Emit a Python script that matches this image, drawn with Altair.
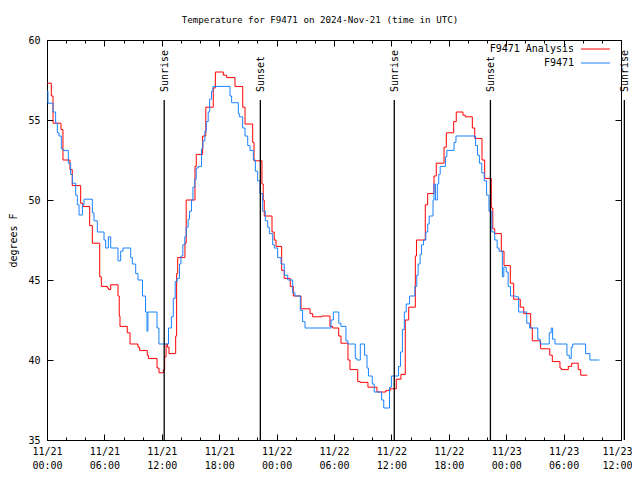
import altair as alt
import pandas as pd

# ---------------- data ----------------
analysis_hours = [0.0, 0.45, 0.63, 1.46, 1.67, 2.4, 2.64, 3.52, 3.76, 4.46, 4.74, 5.51, 5.68, 6.3, 6.45, 6.66,
                  7.42, 7.55, 7.63, 8.39, 8.68, 9.51, 9.69, 10.48, 10.6, 11.5, 11.71, 12.16, 12.3, 12.45, 12.6,
                  12.75, 13.45, 13.55, 13.66, 14.42, 14.55, 15.47, 15.6, 16.27, 16.6, 17.38, 17.6, 18.43, 18.78,
                  19.65, 20.46, 20.7, 21.5, 21.64, 22.47, 22.6, 22.71, 23.52, 23.75, 23.94, 24.53, 24.8, 25.43,
                  25.75, 26.55, 27.49, 27.77, 28.74, 29.58, 29.86, 30.49, 30.73, 31.46, 31.67, 32.48, 32.75,
                  33.55, 34.49, 35.43, 35.88, 36.51, 37.0, 37.45, 37.81, 38.5, 38.62, 39.54, 39.79, 40.45,
                  40.69, 41.5, 41.74, 42.51, 42.78, 43.48, 43.72, 44.46, 44.71, 45.47, 45.75, 46.44, 46.6,
                  46.8, 47.49, 47.77, 48.43, 48.78, 49.47, 49.83, 50.56, 50.73, 51.6, 52.55, 52.82, 53.62,
                  53.76, 54.49, 54.84, 55.53, 55.79, 56.48]
analysis_temps = [57.3, 56.5, 54.8, 54.4, 52.5, 51.9, 50.9, 49.8, 49.6, 48.4, 47.3, 45.2, 44.6, 44.5, 44.4, 44.7,
                  44.0, 42.75, 42.1, 41.7, 41.0, 40.8, 40.6, 40.3, 40.1, 39.5, 39.2, 39.4, 40.2, 41.0, 40.8,
                  40.4, 41.5, 45.4, 46.4, 47.3, 50.0, 52.1, 52.85, 54.0, 55.8, 57.0, 58.0, 57.8, 57.65,
                  57.1, 55.8, 54.75, 53.6, 52.45, 51.0, 50.0, 49.0, 48.0, 47.5, 47.1, 45.6, 45.1, 44.6,
                  44.0, 43.2, 42.9, 42.7, 42.75, 42.1, 42.0, 41.5, 41.05, 40.0, 39.4, 38.65, 38.6,
                  38.3, 38.0, 38.1, 38.2, 38.8, 39.1, 42.5, 43.3, 46.5, 47.5, 49.7, 50.4, 51.5,
                  52.3, 53.3, 54.2, 54.9, 55.5, 55.3, 55.2, 54.5, 53.85, 52.5, 51.35, 49.5, 48.2,
                  47.9, 46.8, 45.9, 44.8, 43.8, 43.3, 42.9, 42.0, 41.2, 40.7, 40.3, 39.9, 39.5,
                  39.4, 39.6, 39.8, 39.4, 39.05, 39.05]

obs_hours = [0.0, 0.1, 0.63, 0.9, 1.08, 1.25, 1.5, 1.67, 2.23, 2.47, 2.65, 3.0, 3.17, 3.35, 3.7, 3.87, 4.74,
             4.91, 5.26, 5.96, 6.13, 6.41, 6.66, 7.42, 7.7, 7.94, 8.75, 8.92, 9.27, 9.51, 9.98, 10.3, 10.45,
             10.55, 11.5, 11.7, 12.7, 13.0, 13.2, 13.4, 13.6, 13.85, 14.0, 14.2, 14.4, 14.55, 14.75, 14.9,
             15.1, 15.25, 15.45, 15.6, 15.8, 16.15, 16.3, 16.5, 16.65, 16.85, 17.0, 17.2, 17.35, 19.13, 19.3,
             20.0, 20.1, 20.45, 20.7, 20.98, 21.22, 21.57, 21.78, 22.02, 22.26, 22.55, 22.82, 23.07, 23.24,
             23.59, 23.76, 24.11, 24.46, 24.8, 25.16, 25.68, 25.92, 26.48, 26.72, 26.97, 29.69, 29.93, 30.5,
             30.73, 31.25, 31.45, 32.22, 32.4, 32.75, 33.2, 33.45, 33.6, 34.0, 34.2, 34.98, 35.2, 35.8, 36.0,
             36.75, 36.95, 37.15, 37.35, 37.55, 37.9, 38.45, 38.65, 38.8, 39.0, 39.15, 39.35, 39.6, 39.8,
             39.95, 40.35, 40.45, 40.6, 40.8, 40.95, 41.1, 41.65, 41.8, 42.55, 42.75, 44.8, 45.0, 45.2, 45.45,
             45.7, 45.95, 46.2, 46.5, 46.8, 47.05, 47.25, 47.6, 47.75, 48.0, 48.2, 48.45, 49.0, 49.3, 50.15,
             50.45, 51.3, 51.55, 52.5, 52.7, 52.85, 53.1, 54.35, 54.6, 54.8, 54.95, 56.3, 56.75, 57.75]
obs_temps = [56.8, 56.05, 55.5, 54.8, 54.2, 54.0, 53.2, 53.1, 52.3, 51.6, 51.05, 50.3, 49.7, 49.06, 49.7, 50.05, 49.2,
             48.7, 48.0, 47.5, 47.0, 47.7, 47.0, 46.2, 46.8, 47.0, 46.4, 46.0, 45.4, 45.0, 44.0, 43.0, 41.8,
             43.0, 42.0, 41.0, 42.0, 42.7, 43.85, 44.9, 45.1, 46.0, 46.5, 47.2, 47.7, 48.3, 48.8, 49.3,
             50.0, 50.8, 51.3, 52.0, 52.1, 53.2, 53.7, 54.3, 54.9, 55.5, 56.3, 56.8, 57.1, 56.5, 56.08,
             55.4, 55.2, 54.5, 54.0, 53.4, 53.1, 52.5, 51.8, 51.2, 50.4, 49.3, 48.7, 48.3, 47.9,
             47.2, 47.0, 46.4, 46.0, 45.3, 45.0, 44.2, 44.0, 43.1, 42.4, 42.0, 42.5, 43.0, 42.3,
             42.1, 41.2, 41.0, 40.1, 40.0, 41.0, 40.3, 39.5, 39.0, 38.5, 38.0, 37.5, 37.0, 38.3, 39.0,
             39.6, 40.5, 41.9, 43.0, 43.5, 44.0, 44.6, 45.3, 46.0, 46.6, 47.2, 47.5, 48.0, 48.5,
             49.0, 50.0, 51.0, 50.0, 51.0, 51.6, 52.1, 52.7, 53.1, 53.6, 54.0, 53.4, 52.8, 52.3, 51.7,
             51.2, 50.3, 49.3, 48.0, 47.5, 47.0, 46.8, 45.2, 45.8, 45.5, 44.6, 44.0, 43.95, 43.0, 42.3,
             42.0, 41.3, 41.0, 41.7, 42.0, 41.3, 41.0, 40.3, 40.1, 40.8, 41.0, 40.4, 40.0, 40.0]

series_names = ["F9471 Analysis", "F9471"]
series_colors = ["#ff0000", "#1a82ff"]

sun_hours = [12.25, 22.3, 36.3, 46.35, 60.35]
sun_labels = ["Sunrise", "Sunset", "Sunrise", "Sunset", "Sunrise"]

major_ticks = [0, 6, 12, 18, 24, 30, 36, 42, 48, 54, 60]
minor_ticks = [0, 2, 4, 6, 8, 10, 12, 14, 16, 18, 20, 22, 24, 26, 28, 30, 32, 34, 36, 38, 40, 42, 44, 46,
               48, 50, 52, 54, 56, 58, 60]
y_ticks = [35, 40, 45, 50, 55, 60]

title_text = "Temperature for F9471 on 2024-Nov-21 (time in UTC)"
y_title = "degrees F"

# ---------------- build ----------------
W, H = 574, 400
FONT = "DejaVu Sans Mono"

df = pd.concat([
    pd.DataFrame({"hour": analysis_hours, "temp": analysis_temps, "series": series_names[0]}),
    pd.DataFrame({"hour": obs_hours, "temp": obs_temps, "series": series_names[1]}),
], ignore_index=True)
sun_df = pd.DataFrame({"hour": sun_hours, "label": sun_labels})

xs = alt.Scale(domain=[0, 60], nice=False, zero=False)
ys = alt.Scale(domain=[35, 60], nice=False, zero=False)
cs = alt.Scale(domain=series_names, range=series_colors)

label_expr = ("['11/' + (21 + floor(datum.value / 24)), "
              "(datum.value % 24 < 10 ? '0' : '') + (datum.value % 24) + ':00']")

base = alt.Chart(df)

lines = base.mark_line(interpolate="step-after", strokeWidth=1).encode(
    x=alt.X("hour:Q", scale=xs, title=None,
            axis=alt.Axis(orient="bottom", values=major_ticks, labelExpr=label_expr, ticks=False,
                          domain=False, grid=False, labelFont=FONT, labelFontSize=10, labelColor="black",
                          labelPadding=6, labelLineHeight=14, labelFlush=False, labelOverlap=False,
                          labelOffset={"condition": {"test": "datum.value == 60", "value": -4}, "value": 0})),
    y=alt.Y("temp:Q", scale=ys, title=y_title,
            axis=alt.Axis(orient="left", values=y_ticks, ticks=False, domain=False, grid=False,
                          labelFont=FONT, labelFontSize=10, labelColor="black", labelPadding=7,
                          titleFont=FONT, titleFontSize=10, titleFontWeight="normal", titleColor="black",
                          titlePadding=9)),
    color=alt.Color("series:N", scale=cs, legend=None, sort=series_names),
)


def tick_layer(xaxis, yaxis):
    enc = {"x": alt.X("hour:Q", scale=xs, title=None, axis=xaxis)}
    if yaxis is not None:
        enc["y"] = alt.Y("temp:Q", scale=ys, title=None, axis=yaxis)
    else:
        enc["y"] = alt.Y("temp:Q", scale=ys, title=None, axis=None)
    return base.mark_point(opacity=0).encode(**enc)


def xt(orient, vals, size):
    return alt.Axis(orient=orient, offset=-H, values=vals, labels=False, domain=False, grid=False,
                    tickSize=size, tickColor="black", tickWidth=1)


def yt(orient, size):
    return alt.Axis(orient=orient, offset=-W, values=y_ticks, labels=False, domain=False, grid=False,
                    tickSize=size, tickColor="black", tickWidth=1)


t1 = tick_layer(xt("top", major_ticks, 6), yt("right", 6))
t2 = tick_layer(xt("top", minor_ticks, 3), yt("left", 6))
t3 = tick_layer(xt("bottom", major_ticks, 6), None)
t4 = tick_layer(xt("bottom", minor_ticks, 3), None)

sun_rules = alt.Chart(sun_df).mark_rule(color="black", strokeWidth=1.3, clip=False).encode(
    x=alt.X("hour:Q", scale=xs, axis=None),
    y=alt.value(60),
    y2=alt.value(H),
)
sun_text = alt.Chart(sun_df).mark_text(angle=270, align="left", baseline="middle", font=FONT,
                                        fontSize=10, color="black", clip=False, dy=1).encode(
    x=alt.X("hour:Q", scale=xs, axis=None),
    y=alt.value(52),
    text="label:N",
)

legend_layers = []
for i, name in enumerate(series_names):
    ldf = pd.DataFrame({"series": [name]})
    yy = 9 + 14 * i
    legend_layers.append(
        alt.Chart(ldf).mark_text(align="right", baseline="middle", font=FONT, fontSize=10,
                                 color="black").encode(text="series:N", x=alt.value(527), y=alt.value(yy))
    )
    legend_layers.append(
        alt.Chart(ldf).mark_rule(strokeWidth=1).encode(
            x=alt.value(534), x2=alt.value(563), y=alt.value(yy),
            color=alt.Color("series:N", scale=cs, legend=None))
    )

chart = alt.layer(
    t1, t2, t3, t4, lines, sun_rules, sun_text, *legend_layers
).resolve_axis(
    x="independent", y="independent"
).properties(
    width=W, height=H,
    autosize=alt.AutoSizeParams(type="none"),
    padding={"left": 39, "top": 32, "right": 11, "bottom": 32},
    title=alt.TitleParams(title_text, font=FONT, fontSize=9.2, fontWeight="normal", color="black",
                          anchor="middle", dx=-14, dy=13, offset=16, baseline="alphabetic"),
    background="white",
).configure_view(
    stroke="black", strokeWidth=1
)

chart.save("out.html", embed_options={"renderer": "svg", "actions": False})
